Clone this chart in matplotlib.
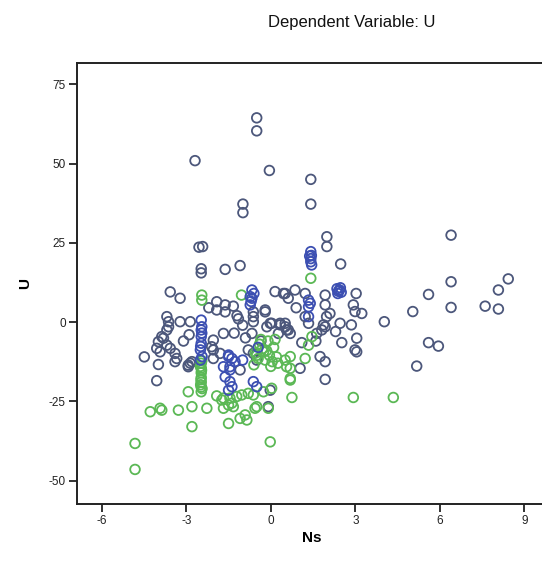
import matplotlib
matplotlib.use("Agg")
import matplotlib.pyplot as plt

# values, split by marker colour
gray_x = [-0.5, -0.5, -2.69, -0.05, -0.99, -0.99, 1.42, 1.42, 1.99, 1.99, 2.48,
          -2.55, -2.42, -2.47, -2.47, -1.62, -1.09,
          6.4, 6.4, 8.43, 8.08, 5.6, 5.04, 6.4, 7.61, 8.08, 4.03, 5.6, 5.95, 5.18,
          3.03, 2.93, 2.99, 3.23, 1.93, 1.93, 2.1, 1.98, 1.93, 2.46, 2.86, 2.52,
          3.05, 2.99, 3.05, 1.93, 1.75, 1.93, 1.04, 1.87, 1.81, 1.63, 0.51, 0.86,
          1.22, 0.15, 0.45, 0.62, 1.22, 1.34, 0.51, 0.62, 0.33, -0.2, 0.03, -0.14,
          0.51, -0.2, -0.02, 0.33, 0.56, 0.27, 0.69, -0.62, -0.62, -0.67, -0.62,
          -3.57, -3.22, -1.92, -1.62, -1.33, -1.62, -1.92,
          -3.63, -3.69, -3.22, -3.63, -3.81, -2.86, -3.69, -3.87, -3.99, -3.69,
          -3.57, -3.4, -3.34, -4.05, -3.93, -3.4, -2.93, -2.8, -4.49, -3.99, -4.05,
          -2.04, -2.04, -2.04, -2.1, -1.68, -1.8, -1.09, -0.8, -0.62, -0.5, -0.09,
          -0.02, -2.86, -2.93, -1.2, -1.0, -1.3, -0.9, -1.15, -2.2, -2.9, -3.1,
          2.3, 1.6, 0.9, 1.1, -0.35]
gray_y = [64.4, 60.3, 50.9, 47.8, 37.2, 34.5, 45.0, 37.2, 26.9, 23.8, 18.3,
          23.6, 23.8, 16.8, 15.5, 16.6, 17.8,
          27.4, 12.7, 13.6, 10.1, 8.7, 3.3, 4.6, 5.0, 4.1, 0.1, -6.5, -7.6, -13.9,
          9.0, 5.4, 3.3, 2.7, 8.5, 5.4, 2.7, 1.7, -1.5, -0.4, -0.9, -6.5,
          -5.1, -8.8, -9.4, -18.1, -10.9, -12.5, -14.6, -0.9, -2.5, -3.6, 9.0, 10.1,
          9.0, 9.6, 9.0, 7.5, 1.7, -0.4, -1.5, -2.5, -0.4, 3.8, -0.4, -1.5,
          -0.4, 3.2, -0.4, -0.9, -2.5, -3.6, -3.6, 1.7, 0.1, -3.6, 3.2,
          9.5, 7.5, 6.4, 5.4, 5.0, 3.2, 3.8,
          0.1, 1.7, 0.1, -1.5, -5.1, 0.1, -2.5, -4.6, -6.2, -7.3,
          -8.3, -9.9, -11.5, -8.3, -9.4, -12.5, -13.6, -12.5, -11.0, -13.4, -18.5,
          -5.7, -8.8, -11.5, -7.8, -3.6, -9.9, -15.1, -8.8, -9.9, -12.0, -26.7,
          -21.5, -13.0, -14.1, 2.0, -1.0, -3.5, -5.0, 1.0, 4.5, -4.0, -6.0,
          -3.0, -6.0, 4.5, -6.5, -6.0]

blue_x = [1.42, 1.42, 1.42, 1.45, 1.38, 1.44, 2.35, 2.44, 2.5, 2.4, 2.47, 2.38,
          -0.67, -0.73, -0.67, -0.73, -0.6, -0.7,
          -2.47, -2.47, -2.47, -2.47, -2.5, -2.44, -2.5, -2.45, -2.49,
          -1.5, -1.38, -1.27, -1.45, -1.68, -1.62, -1.45, -1.38, -1.5, -1.5, -1.45,
          -0.62, -0.5, 1.34, 1.34, 1.34, 1.4, -2.45, -1.0, -0.45]
blue_y = [22.2, 20.0, 19.0, 18.0, 20.8, 21.0, 10.5, 10.1, 9.4, 9.7, 10.8, 9.0,
          10.1, 8.0, 7.5, 5.4, 9.0, 6.5,
          0.6, -2.5, -4.6, -6.7, -8.8, -10.9, -12.0, -3.5, -7.7,
          -10.4, -11.5, -12.5, -14.1, -14.1, -17.3, -18.8, -20.4, -21.5, -10.9, -15.1,
          -18.8, -20.4, 6.9, 4.8, 1.7, 5.9, -1.5, -12.0, -8.0]

green_x = [-2.45, -2.45, -1.04, 1.42,
           0.75, 2.93, 4.35, 0.69, 0.51, 0.56, 0.69, 0.69, 0.69, 1.22, 1.34, 1.46,
           -2.47, -2.47, -2.47, -2.47, -2.47, -2.47, -2.47, -2.5, -2.44,
           -2.46, -2.48, -2.45, -2.49,
           -2.93, -4.28, -3.93, -3.87, -3.28, -2.8, -2.8, -2.27, -1.68, -1.5, -1.33,
           -1.5, -1.09, -0.85, -0.91,
           -1.92, -1.68, -1.45, -1.21, -1.03, -0.8, -0.62, -1.38, -1.74,
           -0.5, -0.26, 0.03, -0.09, -0.56, -0.02, -4.82, -4.82,
           -0.26, -0.4, -0.1, 0.1, -0.5, 0.2, -0.2, -0.6, 0.0, -0.35, 0.25, -0.45,
           -0.05, 0.15, -0.3, -0.15, 0.05, -0.55]
green_y = [8.5, 6.9, 8.5, 13.8,
           -23.8, -23.8, -23.8, -17.8, -12.0, -14.1, -10.9, -14.6, -18.3, -11.5, -7.3, -4.6,
           -13.0, -14.5, -16.0, -17.5, -19.0, -20.5, -22.0, -14.0, -21.0,
           -15.2, -18.2, -12.2, -19.8,
           -22.0, -28.3, -27.2, -27.8, -27.8, -26.7, -33.0, -27.2, -27.2, -26.2, -26.7,
           -32.0, -30.4, -30.9, -29.3,
           -23.3, -24.0, -24.0, -23.5, -23.0, -22.5, -23.0, -25.6, -24.6,
           -26.7, -22.0, -20.9, -27.2, -27.2, -37.8, -38.3, -46.5,
           -9.4, -7.0, -6.0, -8.0, -10.5, -11.0, -12.0, -13.5, -14.0, -5.5, -13.0, -11.5,
           -10.5, -5.5, -8.4, -9.0, -12.5, -9.8]

x_ticks = [-6, -3, 0, 3, 6, 9]
y_ticks = [-50, -25, 0, 25, 50, 75]

plt.rcParams['font.family'] = ['Liberation Sans', 'DejaVu Sans']
plt.rcParams['axes.unicode_minus'] = False

fig = plt.figure(figsize=(5.42, 5.69), dpi=100)
ax = fig.add_axes([77 / 542, 65 / 569, 469 / 542, 441 / 569])

ms = 48
lw = 1.3
ax.scatter(gray_x, gray_y, s=ms, facecolors='none', edgecolors='#4c577b', linewidths=lw)
ax.scatter(green_x, green_y, s=ms, facecolors='none', edgecolors='#5bb855', linewidths=lw)
ax.scatter(blue_x, blue_y, s=ms, facecolors='none', edgecolors='#3c4fb2', linewidths=lw)

ax.set_xlim(-6.88, 9.77)
ax.set_ylim(-57.4, 81.7)
ax.set_xticks(x_ticks)
ax.set_yticks(y_ticks)
ax.tick_params(direction='out', length=6, width=1.3, labelsize=8.5,
               colors='#222222', pad=2)
for side in ['left', 'bottom', 'top', 'right']:
    ax.spines[side].set_linewidth(1.4)
    ax.spines[side].set_color('#222222')

ax.set_xlabel('Ns', fontsize=11, fontweight='bold', labelpad=3)
ax.set_ylabel('U', fontsize=11, fontweight='bold', labelpad=12)

fig.text(352 / 542, 1 - 22 / 569, 'Dependent Variable: U', ha='center', va='center',
         fontsize=12, color='#111111')

fig.savefig('out.png', dpi=100)
